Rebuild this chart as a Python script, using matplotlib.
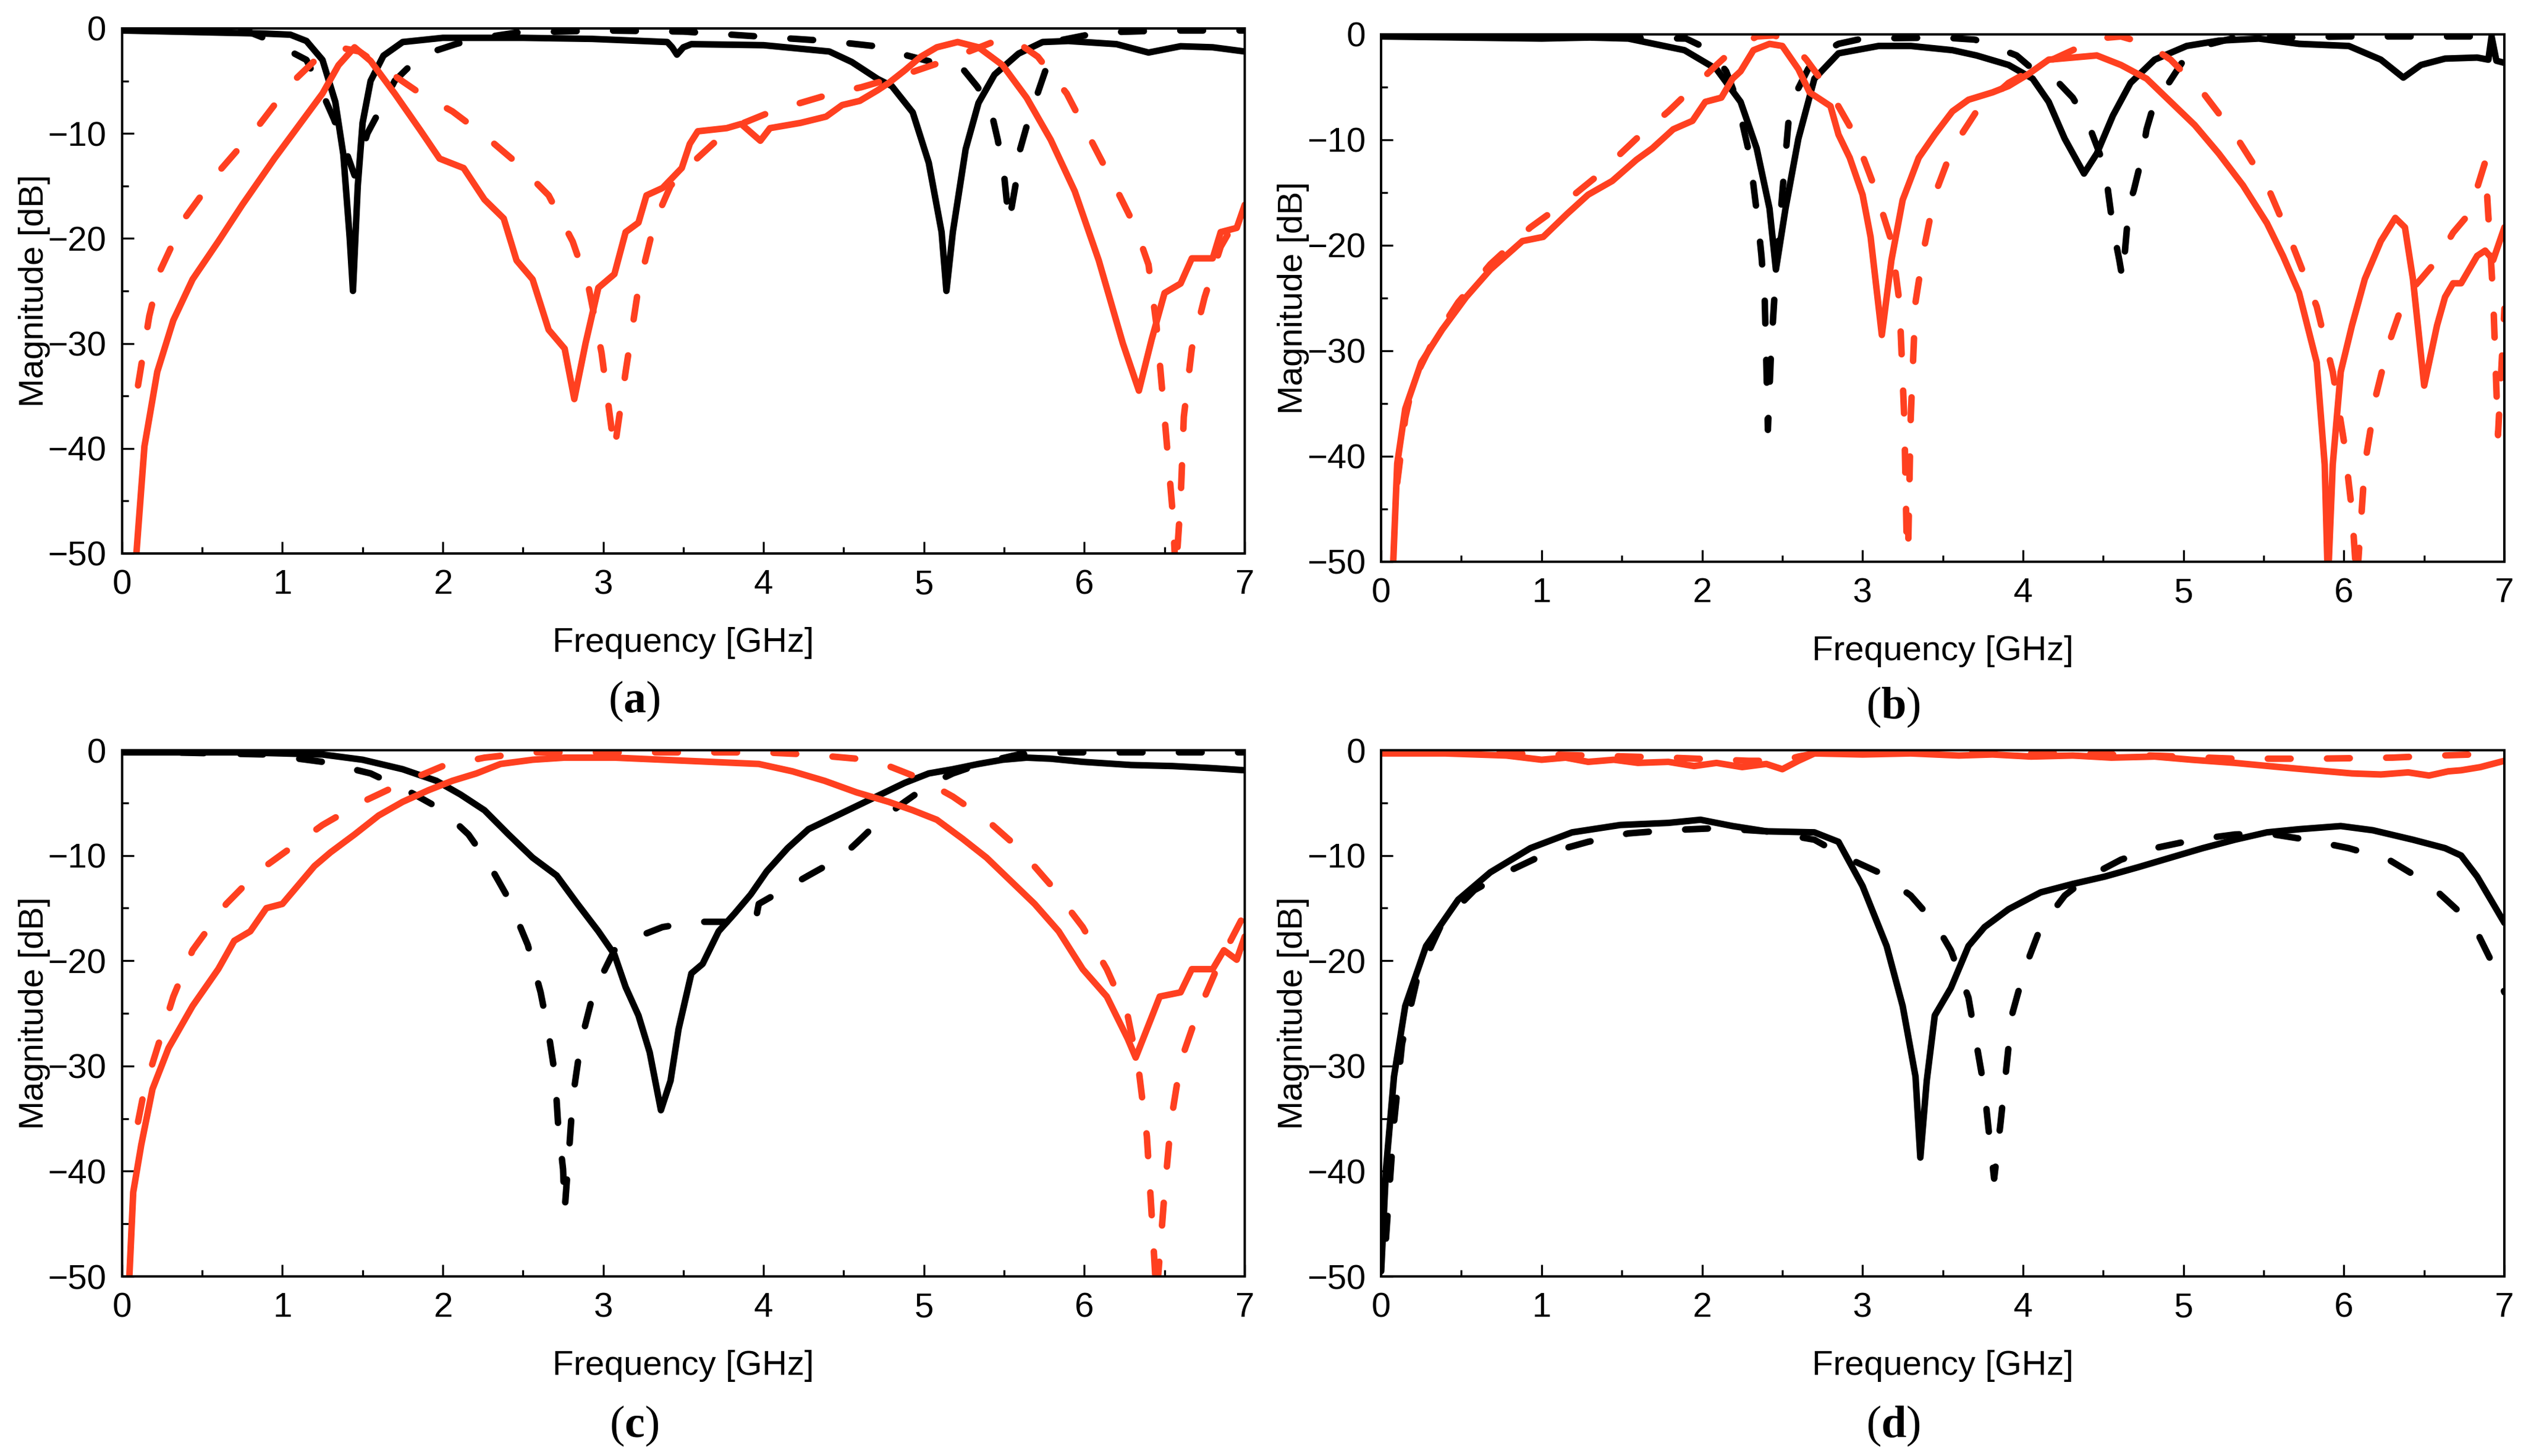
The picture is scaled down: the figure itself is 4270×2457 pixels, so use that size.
import matplotlib
matplotlib.use('Agg')
import matplotlib.pyplot as plt
from matplotlib.ticker import MultipleLocator

plt.rcParams['font.family'] = ['Liberation Sans', 'DejaVu Sans']
plt.rcParams['mathtext.fontset'] = 'custom'
plt.rcParams['mathtext.rm'] = 'Liberation Serif'
plt.rcParams['mathtext.bf'] = 'Liberation Serif:bold'

RED = '#FF4020'
BLACK = '#000000'

# ---- panel (a) ----
a_bs_f = [0, 0.3, 0.6, 0.9, 1.05, 1.15, 1.25, 1.33, 1.38, 1.42, 1.44, 1.47, 1.5, 1.55, 1.63, 1.75, 2.0, 2.5, 2.93, 3.4, 3.43, 3.46, 3.5, 3.55, 4.0, 4.41, 4.55, 4.71, 4.8, 4.93, 5.03, 5.11, 5.14, 5.18, 5.26, 5.34, 5.44, 5.59, 5.74, 5.9, 6.2, 6.4, 6.6, 6.8, 7.0]
a_bs_db = [-0.2, -0.3, -0.4, -0.5, -0.6, -1.2, -3, -7, -12, -20, -25, -15, -9, -5, -2.6, -1.3, -0.9, -0.9, -1.0, -1.3, -1.8, -2.5, -1.8, -1.5, -1.6, -2.2, -3.2, -4.8, -5.5, -8, -12.8, -19.4, -25, -19.4, -11.5, -7.1, -4.4, -2.4, -1.3, -1.2, -1.5, -2.3, -1.7, -1.8, -2.2]

a_bd_f = [0, 0.5, 0.8, 0.9, 1.0, 1.15, 1.23, 1.32, 1.38, 1.45, 1.53, 1.6, 1.7, 1.86, 2.08, 2.2, 2.46, 3.0, 3.5, 4.0, 4.4, 4.7, 4.85, 5.05, 5.15, 5.25, 5.33, 5.41, 5.46, 5.5, 5.53, 5.57, 5.6, 5.65, 5.78, 5.86, 6.09, 6.5, 7.0]
a_bd_db = [-0.1, -0.2, -0.4, -1.0, -1.8, -3, -5.5, -8.6, -11, -14, -10, -8, -5, -2.6, -1.5, -1.0, -0.4, -0.2, -0.3, -0.8, -1.2, -1.7, -2.4, -3.2, -3.5, -4.0, -5.5, -7.3, -10.6, -14, -18.5, -15, -11.5, -8.8, -3, -1.1, -0.4, -0.2, -0.2]

a_rs_f = [0.08, 0.14, 0.22, 0.32, 0.44, 0.6, 0.75, 0.95, 1.1, 1.25, 1.35, 1.45, 1.55, 1.7, 1.86, 1.98, 2.13, 2.26, 2.38, 2.46, 2.56, 2.66, 2.76, 2.82, 2.89, 2.97, 3.07, 3.14, 3.22, 3.27, 3.37, 3.49, 3.54, 3.59, 3.77, 3.86, 3.98, 4.04, 4.23, 4.39, 4.49, 4.6, 4.71, 4.78, 4.88, 4.98, 5.08, 5.21, 5.34, 5.49, 5.64, 5.79, 5.94, 6.09, 6.24, 6.34, 6.42, 6.5, 6.6, 6.67, 6.8, 6.85, 6.95, 7.0]
a_rs_db = [-52, -39.8, -32.7, -27.8, -23.9, -20.3, -16.8, -12.4, -9.3, -6.2, -3.5, -1.8, -3.1, -6.2, -9.7, -12.4, -13.3, -16.3, -18.1, -22.1, -23.9, -28.7, -30.5, -35.3, -30, -24.7, -23.4, -19.4, -18.5, -15.9, -15.2, -13.3, -11, -9.8, -9.5, -9.1, -10.7, -9.5, -9.0, -8.4, -7.3, -6.9, -5.9, -5.2, -4, -2.7, -1.8, -1.3, -1.8, -3.5, -6.6, -10.6, -15.5, -22.1, -30, -34.5, -29.6, -25.2, -24.3, -21.9, -21.9, -19.4, -19, -16.8]

a_rd_f = [0.1, 0.17, 0.24, 0.39, 0.6, 0.85, 1.05, 1.2, 1.35, 1.48, 1.65, 1.86, 2.06, 2.26, 2.46, 2.66, 2.81, 2.91, 2.99, 3.07, 3.14, 3.22, 3.32, 3.42, 3.52, 3.72, 3.86, 4.07, 4.23, 4.43, 4.61, 4.88, 5.13, 5.28, 5.43, 5.56, 5.71, 5.89, 6.04, 6.19, 6.32, 6.4, 6.45, 6.5, 6.55, 6.57, 6.6, 6.62, 6.67, 6.75, 6.85, 7.0]
a_rd_db = [-34, -27.4, -23, -18.1, -13.7, -9.3, -5.3, -3.1, -1.8, -2.2, -4, -6.2, -7.9, -10.2, -12.8, -15.9, -20.3, -24.7, -30.9, -40.2, -32.7, -24.7, -18.5, -15, -13.3, -10.5, -9.1, -7.8, -7.1, -6.2, -5.6, -4.4, -3.1, -2.2, -1.3, -1.1, -2.7, -6.2, -10.6, -15, -19, -22.5, -28.3, -37, -46, -52, -45, -37, -30.5, -25.6, -20.8, -16.8]

# ---- panel (b) ----
b_bs_f = [0, 0.5, 1.0, 1.3, 1.54, 1.89, 2.09, 2.24, 2.34, 2.42, 2.46, 2.52, 2.6, 2.7, 2.85, 3.1, 3.3, 3.56, 3.71, 3.91, 4.06, 4.16, 4.26, 4.38, 4.46, 4.56, 4.67, 4.82, 5.02, 5.22, 5.47, 5.72, 6.03, 6.23, 6.37, 6.48, 6.63, 6.83, 6.9, 6.92, 6.95, 7.0]
b_bs_db = [-0.2, -0.3, -0.4, -0.3, -0.4, -1.5, -3.3, -6.4, -10.8, -16.5, -22.3, -16.5, -9.9, -4.2, -1.8, -1.1, -1.1, -1.5, -2, -2.9, -4.2, -6.4, -9.9, -13.2, -11.3, -7.7, -4.6, -2.4, -1.1, -0.6, -0.4, -0.9, -1.1, -2.4, -4.1, -2.9, -2.3, -2.2, -2.4, -0.2, -2.5, -2.7]

b_bd_f = [0, 1.0, 1.9, 2.05, 2.15, 2.2, 2.24, 2.3, 2.32, 2.35, 2.37, 2.39, 2.4, 2.41, 2.43, 2.46, 2.5, 2.54, 2.57, 2.66, 2.72, 2.85, 3.0, 3.5, 3.7, 3.81, 3.96, 4.06, 4.21, 4.31, 4.41, 4.51, 4.56, 4.6, 4.62, 4.66, 4.69, 4.74, 4.77, 4.82, 4.87, 5.02, 5.12, 5.3, 6.0, 7.0]
b_bd_db = [-0.1, -0.2, -0.4, -1.5, -3.5, -5.5, -7.7, -11.7, -14.3, -18, -21, -25, -31, -37.5, -30, -22.6, -15, -8, -6, -3.3, -2, -0.9, -0.4, -0.3, -0.5, -1.1, -2, -3.3, -4.4, -6, -8.6, -12.6, -18.3, -21.4, -23.2, -16.2, -14.8, -11.7, -9, -6.4, -5.5, -2, -1.1, -0.4, -0.2, -0.2]

b_rs_f = [0.07, 0.1, 0.15, 0.25, 0.38, 0.53, 0.68, 0.88, 1.01, 1.16, 1.29, 1.44, 1.59, 1.69, 1.82, 1.94, 2.02, 2.12, 2.19, 2.24, 2.32, 2.42, 2.5, 2.6, 2.67, 2.8, 2.85, 2.92, 3.0, 3.05, 3.12, 3.18, 3.25, 3.35, 3.45, 3.56, 3.66, 3.81, 3.91, 4.03, 4.16, 4.31, 4.46, 4.61, 4.77, 4.92, 5.07, 5.22, 5.37, 5.52, 5.62, 5.72, 5.83, 5.88, 5.9, 5.93, 5.98, 6.05, 6.13, 6.23, 6.32, 6.38, 6.43, 6.5, 6.58, 6.63, 6.68, 6.73, 6.83, 6.88, 6.93, 7.0]
b_rs_db = [-52, -40.7, -35.5, -31.1, -28, -24.9, -22.3, -19.6, -19.2, -17, -15.2, -13.9, -11.9, -10.8, -9, -8.2, -6.4, -6, -4.2, -3.5, -1.5, -0.9, -1.1, -3.3, -5.5, -6.8, -9.5, -11.7, -15.2, -19.2, -28.5, -21.4, -15.7, -11.7, -9.5, -7.3, -6.2, -5.5, -4.9, -3.8, -2.4, -2.2, -2, -2.9, -4.2, -6.4, -8.6, -11.3, -14.3, -17.9, -21, -24.5, -31.1, -40.8, -52, -40.8, -32, -27.6, -23.2, -19.6, -17.4, -18.3, -23.2, -33.3, -27.6, -24.9, -23.6, -23.6, -21, -20.5, -21.4, -18.3]

b_rd_f = [0.1, 0.15, 0.2, 0.33, 0.48, 0.68, 0.93, 1.13, 1.34, 1.59, 1.79, 1.94, 2.09, 2.19, 2.34, 2.45, 2.55, 2.65, 2.8, 2.95, 3.07, 3.18, 3.23, 3.26, 3.28, 3.3, 3.33, 3.38, 3.45, 3.56, 3.71, 3.91, 4.11, 4.31, 4.46, 4.61, 4.77, 4.92, 5.12, 5.32, 5.52, 5.67, 5.83, 5.93, 6.0, 6.05, 6.08, 6.13, 6.2, 6.28, 6.38, 6.48, 6.58, 6.68, 6.78, 6.88, 6.93, 6.96, 7.0]
b_rd_db = [-42.5, -36.4, -32.9, -28.9, -25.4, -21.8, -18.3, -16.1, -13.5, -9.9, -7.3, -5.1, -2.9, -1.5, -0.2, -0.1, -0.7, -2.4, -5.5, -9.5, -14.3, -19.6, -25.4, -36.4, -52, -36.4, -25.4, -20.5, -15.2, -10.8, -7.3, -4.6, -2.9, -1.5, -0.4, -0.2, -0.9, -2.4, -5.5, -9.5, -14.3, -19.6, -25.8, -32, -38.6, -45.2, -52, -40.8, -34.2, -29.3, -24.9, -23.2, -21.4, -18.8, -17, -12.1, -25, -38, -26]

# ---- panel (c) ----
c_bs_f = [0, 0.75, 1.25, 1.5, 1.75, 1.96, 2.11, 2.26, 2.41, 2.56, 2.71, 2.84, 2.97, 3.07, 3.14, 3.22, 3.29, 3.36, 3.42, 3.47, 3.55, 3.62, 3.72, 3.82, 3.92, 4.02, 4.15, 4.28, 4.43, 4.58, 4.73, 4.88, 5.03, 5.18, 5.34, 5.49, 5.64, 5.79, 5.99, 6.29, 6.55, 6.8, 7.0]
c_bs_db = [-0.2, -0.2, -0.4, -0.9, -1.8, -2.9, -4.2, -5.7, -8, -10.2, -11.9, -14.6, -17.2, -19.4, -22.5, -25.2, -28.7, -34.2, -31.4, -26.5, -21.2, -20.3, -17.2, -15.5, -13.7, -11.5, -9.3, -7.5, -6.4, -5.3, -4.2, -3.1, -2.2, -1.8, -1.3, -0.9, -0.7, -0.8, -1.1, -1.4, -1.5, -1.7, -1.9]

c_bd_f = [0, 0.9, 1.25, 1.55, 1.8, 2.0, 2.16, 2.28, 2.41, 2.53, 2.61, 2.66, 2.7, 2.72, 2.75, 2.76, 2.79, 2.81, 2.86, 2.94, 3.07, 3.22, 3.37, 3.57, 3.87, 3.95, 3.97, 4.13, 4.28, 4.48, 4.58, 4.73, 4.88, 5.03, 5.18, 5.39, 5.59, 5.79, 6.5, 7.0]
c_bd_db = [-0.1, -0.4, -1.1, -2.2, -4, -5.7, -8, -10.6, -14.1, -18.5, -23, -26.9, -30.9, -35.8, -39.8, -43.7, -37.5, -33.1, -27.8, -23, -19, -17.7, -16.8, -16.3, -16.3, -16.2, -14.6, -13.2, -11.9, -10.2, -8.8, -6.6, -4.9, -3.3, -2.2, -1.1, -0.4, -0.2, -0.2, -0.2]

c_rs_f = [0.04, 0.07, 0.12, 0.19, 0.29, 0.44, 0.6, 0.7, 0.8, 0.9, 1.0, 1.1, 1.2, 1.3, 1.45, 1.6, 1.75, 1.91, 2.06, 2.21, 2.36, 2.56, 2.76, 3.07, 3.37, 3.67, 3.97, 4.18, 4.38, 4.58, 4.78, 4.93, 5.08, 5.24, 5.39, 5.54, 5.69, 5.84, 5.99, 6.14, 6.27, 6.32, 6.39, 6.47, 6.6, 6.67, 6.8, 6.87, 6.95, 7.0]
c_rs_db = [-52, -42, -37.5, -32.2, -28.3, -24.3, -20.8, -18.1, -17.2, -15, -14.6, -12.8, -11, -9.7, -8, -6.2, -4.9, -3.8, -2.9, -2.2, -1.3, -0.9, -0.7, -0.7, -0.9, -1.1, -1.3, -2, -2.9, -4, -4.9, -5.7, -6.6, -8.4, -10.2, -12.4, -14.6, -17.2, -20.8, -23.4, -27.4, -29.2, -26.5, -23.4, -23, -20.8, -20.8, -19, -19.9, -17.7]

c_rd_f = [0.1, 0.14, 0.22, 0.32, 0.44, 0.65, 0.85, 1.05, 1.25, 1.5, 1.75, 2.0, 2.26, 2.56, 3.0, 3.5, 4.0, 4.28, 4.58, 4.78, 4.98, 5.18, 5.39, 5.59, 5.79, 5.99, 6.14, 6.27, 6.34, 6.39, 6.42, 6.45, 6.5, 6.54, 6.6, 6.7, 6.85, 7.0]
c_rd_db = [-35.3, -32.2, -28.3, -23.4, -19, -14.6, -11.5, -9.3, -7.1, -4.9, -3.1, -1.5, -0.7, -0.2, -0.2, -0.2, -0.2, -0.4, -0.8, -1.5, -2.7, -4.4, -6.6, -9.3, -12.8, -16.8, -20.8, -25.2, -30.5, -36.7, -44.2, -52, -42, -35.3, -29.6, -25.2, -19.9, -15.5]

# ---- panel (d) ----
d_bs_f = [0, 0.03, 0.08, 0.15, 0.28, 0.48, 0.68, 0.93, 1.19, 1.49, 1.79, 1.99, 2.19, 2.4, 2.7, 2.85, 3.0, 3.15, 3.25, 3.33, 3.36, 3.4, 3.45, 3.55, 3.66, 3.76, 3.91, 4.11, 4.31, 4.51, 4.72, 4.92, 5.12, 5.32, 5.52, 5.72, 5.98, 6.18, 6.43, 6.63, 6.73, 6.83, 7.0]
d_bs_db = [-49.5, -39.8, -31, -24.3, -18.6, -14.2, -11.6, -9.3, -7.8, -7.1, -6.9, -6.6, -7.2, -7.7, -7.8, -8.7, -12.9, -18.6, -24.3, -31, -38.7, -31.4, -25.2, -22.6, -18.6, -16.8, -15.1, -13.5, -12.7, -12, -11.1, -10.2, -9.3, -8.5, -7.8, -7.5, -7.2, -7.6, -8.5, -9.3, -10, -12, -16.4]

d_bd_f = [0.03, 0.08, 0.13, 0.23, 0.38, 0.58, 0.78, 1.03, 1.29, 1.54, 1.79, 2.09, 2.4, 2.7, 2.9, 3.1, 3.3, 3.45, 3.55, 3.66, 3.71, 3.76, 3.79, 3.82, 3.86, 3.9, 3.93, 4.01, 4.11, 4.26, 4.41, 4.61, 4.82, 5.07, 5.32, 5.52, 5.77, 6.03, 6.28, 6.53, 6.73, 6.83, 6.93, 7.0]
d_bd_db = [-46.4, -35.4, -27.9, -21.3, -16.4, -13.3, -11.6, -9.8, -8.7, -7.9, -7.6, -7.4, -7.7, -8.5, -10.2, -11.6, -13.8, -16.4, -19, -23.5, -27.9, -32.3, -36.7, -40.7, -35.4, -29.6, -25.2, -20.8, -16.8, -13.8, -12, -10.4, -9.3, -8.5, -8, -7.9, -8.5, -9.3, -10.4, -12.7, -15.5, -17.3, -20.4, -23]

d_rs_f = [0, 0.4, 0.78, 1.0, 1.15, 1.29, 1.45, 1.6, 1.79, 1.95, 2.09, 2.25, 2.4, 2.5, 2.6, 2.7, 3.0, 3.3, 3.6, 3.81, 4.05, 4.31, 4.55, 4.82, 5.05, 5.32, 5.6, 5.82, 6.05, 6.23, 6.4, 6.53, 6.65, 6.73, 6.85, 7.0]
d_rs_db = [-0.3, -0.3, -0.5, -0.9, -0.7, -1.1, -0.9, -1.2, -1.1, -1.5, -1.2, -1.6, -1.3, -1.8, -1.0, -0.3, -0.4, -0.3, -0.5, -0.4, -0.6, -0.5, -0.7, -0.6, -0.9, -1.2, -1.6, -1.9, -2.2, -2.3, -2.1, -2.4, -2.0, -1.9, -1.6, -1.0]

d_rd_f = [0, 0.6, 1.29, 1.8, 2.29, 2.5, 2.6, 2.7, 3.2, 3.8, 4.31, 4.8, 5.32, 5.82, 6.3, 6.6, 7.0]
d_rd_db = [-0.1, -0.2, -0.5, -0.7, -1.0, -1.0, -0.6, -0.3, -0.3, -0.3, -0.3, -0.5, -0.8, -0.8, -0.7, -0.5, -0.3]

panels = [
    ('a', [0.0482, 0.6199, 0.4436, 0.3606], (a_bs_f, a_bs_db), (a_bd_f, a_bd_db), (a_rs_f, a_rs_db), (a_rd_f, a_rd_db)),
    ('b', [0.5457, 0.6142, 0.4438, 0.3622], (b_bs_f, b_bs_db), (b_bd_f, b_bd_db), (b_rs_f, b_rs_db), (b_rd_f, b_rd_db)),
    ('c', [0.0482, 0.1233, 0.4436, 0.3614], (c_bs_f, c_bs_db), (c_bd_f, c_bd_db), (c_rs_f, c_rs_db), (c_rd_f, c_rd_db)),
    ('d', [0.5457, 0.1233, 0.4438, 0.3614], (d_bs_f, d_bs_db), (d_bd_f, d_bd_db), (d_rs_f, d_rs_db), (d_rd_f, d_rd_db)),
]
label_pos = {'a': (0.2506, 1 - 1202 / 2457), 'b': (0.748, 1 - 1212 / 2457),
             'c': (0.2506, 1 - 2425 / 2457), 'd': (0.748, 1 - 2425 / 2457)}

LW = 7.9
DASH = (0, (3.5, 5.6))

fig = plt.figure(figsize=(42.7, 24.57), dpi=100)

for name, rect, bs, bd, rs, rd in panels:
    ax = fig.add_axes(rect)
    ax.plot(bs[0], bs[1], color=BLACK, lw=LW, solid_joinstyle='round', solid_capstyle='round')
    ax.plot(bd[0], bd[1], color=BLACK, lw=LW, ls=DASH, dash_capstyle='round', dash_joinstyle='round')
    ax.plot(rs[0], rs[1], color=RED, lw=LW, solid_joinstyle='round', solid_capstyle='round')
    ax.plot(rd[0], rd[1], color=RED, lw=LW, ls=DASH, dash_capstyle='round', dash_joinstyle='round')
    ax.set_xlim(0, 7)
    ax.set_ylim(-50, 0)
    ax.set_xticks(range(0, 8))
    ax.set_yticks([0, -10, -20, -30, -40, -50])
    ax.xaxis.set_minor_locator(MultipleLocator(0.5))
    ax.yaxis.set_minor_locator(MultipleLocator(5))
    ax.tick_params(which='both', direction='in', top=False, right=False, width=2.4, labelsize=42, pad=19)
    ax.tick_params(which='major', length=14.4)
    ax.tick_params(which='minor', length=7.9)
    for sp in ax.spines.values():
        sp.set_linewidth(2.9)
    ax.set_xlabel('Frequency [GHz]', fontsize=42)
    ax.xaxis.label.set_va('baseline')
    ax.xaxis.set_label_coords(0.5, -0.187)
    ax.set_ylabel('Magnitude [dB]', fontsize=42)
    ax.yaxis.label.set_va('center')
    ax.yaxis.set_label_coords(-0.078, 0.5)
    lx, ly = label_pos[name]
    fig.text(lx, ly, '($\\mathbf{' + name + '}$)', fontsize=55, family='Liberation Serif',
             ha='center', va='baseline')

fig.savefig('out.png', dpi=100)
